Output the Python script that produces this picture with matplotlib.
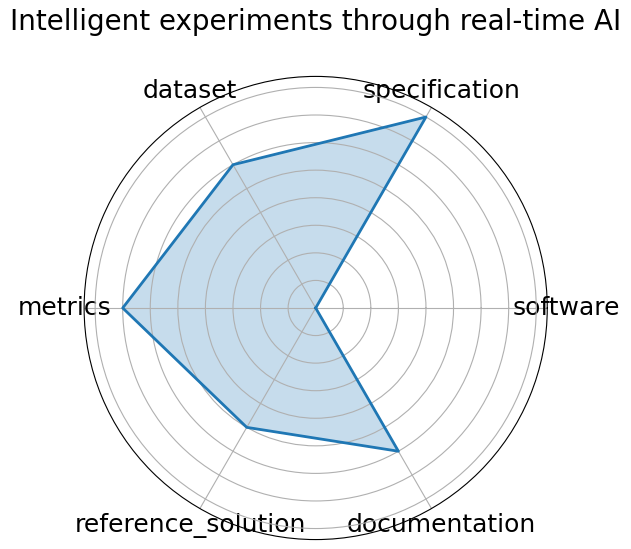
import numpy as np
import matplotlib
matplotlib.use("Agg")
import matplotlib.pyplot as plt

categories = ["software", "specification", "dataset", "metrics", "reference_solution", "documentation"]
values = [0.0, 0.8, 0.6, 0.7, 0.5, 0.6]
title = "Intelligent experiments through real-time AI"

n = len(categories)
angles = np.linspace(0, 2 * np.pi, n, endpoint=False).tolist()
vals = values + values[:1]
angs = angles + angles[:1]

fig = plt.figure(figsize=(6.31, 5.49), dpi=100)
ax = fig.add_axes([0.1333, 0.017, 0.734, 0.844], projection="polar")
ax.plot(angs, vals, color="#1f77b4", linewidth=2)
ax.fill(angs, vals, color="#1f77b4", alpha=0.25)
ax.set_ylim(0, 0.84)
ax.set_yticks([0.1, 0.2, 0.3, 0.4, 0.5, 0.6, 0.7, 0.8])
ax.set_yticklabels([])
ax.set_xticks(angles)
ax.set_xticklabels(categories, fontsize=18)
fig.text(0.5, 0.96, title, fontsize=20, ha="center", va="center")
fig.savefig("out.png", dpi=100)
